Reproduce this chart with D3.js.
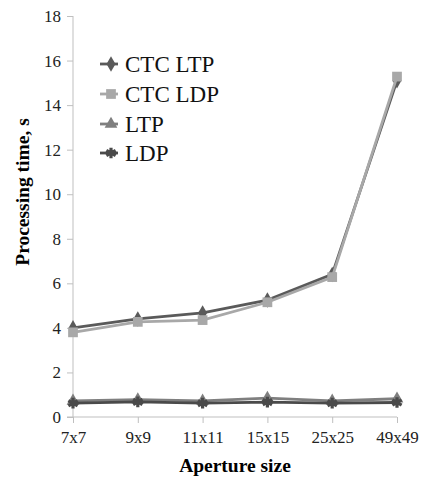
<!DOCTYPE html>
<html><head><meta charset="utf-8">
<script src="https://cdn.jsdelivr.net/npm/d3@7"></script>
<style>body{margin:0;background:#fff}svg{display:block}</style>
</head><body>
<svg id="c" width="422" height="479" style="font-family:'Liberation Serif'"></svg>
<script>
const categories = ["7x7","9x9","11x11","15x15","25x25","49x49"];
const ctcLtp = [4.0, 4.4, 4.67, 5.25, 6.4, 15.1];
const ctcLdp = [3.8, 4.27, 4.35, 5.15, 6.28, 15.28];
const ltp = [0.72, 0.78, 0.72, 0.85, 0.72, 0.82];
const ldp = [0.62, 0.68, 0.62, 0.67, 0.62, 0.65];
const yTicks = [0,2,4,6,8,10,12,14,16,18];
const seriesNames = ["CTC LTP","CTC LDP","LTP","LDP"];

const series = [
  {name: seriesNames[0], values: ctcLtp, color: "#5a5a5a", sym: "diamond"},
  {name: seriesNames[1], values: ctcLdp, color: "#a8a8a8", sym: "square"},
  {name: seriesNames[2], values: ltp, color: "#7f7f7f", sym: "triangle"},
  {name: seriesNames[3], values: ldp, color: "#4a4a4a", sym: "star"}
];

const svg = d3.select("#c");
const font = '"Liberation Serif"';
const x = d3.scalePoint().domain(categories).range([73, 397]);
const y = d3.scaleLinear().domain([0, 18]).range([417, 16]);
const axisColor = "#bfbfbf";

function serif(sel, size, bold){
  sel.attr("font-family", "Liberation Serif").style("font-family", font)
     .attr("font-size", size).style("font-size", size + "px");
  if (bold) sel.attr("font-weight","bold").style("font-weight","bold");
  return sel;
}

// Y axis
const ya = svg.append("g").attr("transform","translate(73,0)")
  .call(d3.axisLeft(y).tickValues(yTicks).tickSize(6).tickPadding(6).tickFormat(d3.format("d")));
ya.attr("font-family", "Liberation Serif");
ya.select(".domain").attr("stroke", axisColor).attr("d","M0,16V417");
ya.selectAll(".tick line").attr("stroke", axisColor);
serif(ya.selectAll(".tick text"), 17).attr("fill","#222");

// X axis
const xa = svg.append("g").attr("transform","translate(0,417)")
  .call(d3.axisBottom(x).tickSize(6).tickPadding(8));
xa.attr("font-family", "Liberation Serif");
xa.select(".domain").attr("stroke", axisColor).attr("d","M67,0H397");
xa.selectAll(".tick line").attr("stroke", axisColor);
serif(xa.selectAll(".tick text"), 17).attr("fill","#222");

// titles
serif(svg.append("text").attr("x", 235).attr("y", 472).attr("text-anchor","middle"), 19.5, true).text("Aperture size");
serif(svg.append("text").attr("transform","translate(29,192) rotate(-90)").attr("text-anchor","middle"), 19.5, true).text("Processing time, s");

function symPath(sym){
  if (sym === "diamond") return d3.symbol(d3.symbolDiamond, 70)();
  if (sym === "square") return d3.symbol(d3.symbolSquare, 95)();
  if (sym === "triangle") return d3.symbol(d3.symbolTriangle, 70)();
  return d3.symbol(d3.symbolAsterisk, 80)();
}
function drawMarker(g, s, cx, cy){
  const p = g.append("path").attr("d", symPath(s.sym)).attr("transform", `translate(${cx},${cy})`);
  if (s.sym === "star") p.attr("fill","none").attr("stroke", s.color).attr("stroke-width", 3.2);
  else p.attr("fill", s.color);
}

const line = d3.line().x((d,i)=>x(categories[i])).y(d=>y(d));
series.forEach(s => {
  const g = svg.append("g");
  g.append("path").datum(s.values).attr("d", line).attr("fill","none")
    .attr("stroke", s.color).attr("stroke-width", 2.8);
  s.values.forEach((v,i)=> drawMarker(g, s, x(categories[i]), y(v)));
});

// Legend
const legY = [64, 94, 124, 153];
series.forEach((s,i)=>{
  const g = svg.append("g");
  g.append("line").attr("x1", 100).attr("x2", 118).attr("y1", legY[i]).attr("y2", legY[i])
    .attr("stroke", s.color).attr("stroke-width", 2.8);
  drawMarker(g, s, 111, legY[i]);
  serif(g.append("text").attr("x", 125).attr("y", legY[i]).attr("dy","0.34em"), 23).attr("fill","#111").text(s.name);
});
</script>
</body></html>
